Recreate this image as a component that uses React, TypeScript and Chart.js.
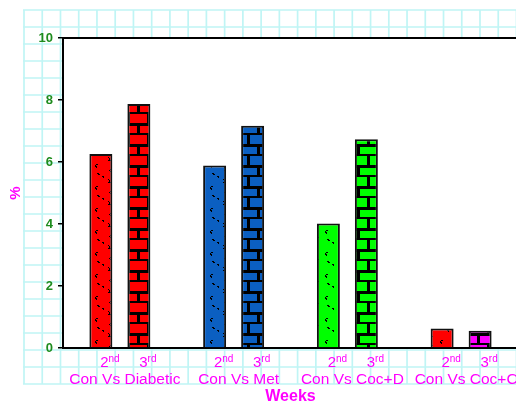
import React, { useEffect, useRef } from "react";
import { Chart, registerables } from "chart.js";

Chart.register(...registerables);

const categories = ["Con Vs Diabetic", "Con Vs Met", "Con Vs Coc+D", "Con Vs Coc+C"];
const weekNumbers = ["2", "3"];
const weekSuffixes = ["nd", "rd"];
const week2Values = [6.26, 5.89, 4.02, 0.63];
const week3Values = [7.87, 7.17, 6.73, 0.56];
const week2Colors = ["#ff0000", "#0b5fc1", "#00ff00", "#ff0000"];
const week3Colors = ["#ff0000", "#0b5fc1", "#00ff00", "#ff00ff"];
const yMin = 0;
const yMax = 10;
const yStep = 2;

const FONT = "Arial, 'Liberation Sans', sans-serif";
const MAGENTA = "#ff00ff";
const GREEN = "#1e8c1e";

function dotPattern(color: string): CanvasPattern {
  const c = document.createElement("canvas");
  c.width = 23;
  c.height = 22;
  const g = c.getContext("2d")!;
  g.fillStyle = color;
  g.fillRect(0, 0, 23, 22);
  g.fillStyle = "#000";
  const pts = [
    [16, 3], [17, 4], [17, 5], [16, 6], [17, 6], [18, 6],
    [3, 11], [4, 10], [5, 10], [3, 12], [4, 12], [4, 13],
    [18, 15], [17, 16], [18, 17], [19, 17],
    [10, 0], [11, 0], [11, 1],
    [5, 19], [6, 19], [6, 20], [7, 20],
  ];
  pts.forEach(([x, y]) => g.fillRect(x, y, 1, 1));
  return g.createPattern(c, "repeat")!;
}

function brickPattern(color: string): CanvasPattern {
  const c = document.createElement("canvas");
  c.width = 20;
  c.height = 21;
  const g = c.getContext("2d")!;
  g.fillStyle = "#000";
  g.fillRect(0, 0, 20, 21);
  g.fillStyle = color;
  g.fillRect(0, 0, 17, 7);
  g.fillRect(0, 9, 7, 9);
  g.fillRect(10, 9, 10, 9);
  return g.createPattern(c, "repeat")!;
}

const backgroundPlugin = {
  id: "paperGrid",
  beforeDraw(chart: any) {
    const { ctx, chartArea } = chart;
    ctx.save();
    ctx.fillStyle = "#ffffff";
    ctx.fillRect(0, 0, chart.width, chart.height);
    ctx.strokeStyle = "#c0f5f5";
    ctx.lineWidth = 1.7;
    const x0 = 24, y0 = 10, y1 = 384, dx = 18.24, dy = 17.0;
    ctx.beginPath();
    for (let x = x0; x <= chart.width; x += dx) {
      ctx.moveTo(x, y0);
      ctx.lineTo(x, y1);
    }
    for (let y = y0; y <= y1 + 0.5; y += dy) {
      ctx.moveTo(x0 - 1, y);
      ctx.lineTo(chart.width, y);
    }
    ctx.stroke();
    ctx.fillStyle = "#ffffff";
    ctx.fillRect(chartArea.left, chartArea.top, chartArea.right - chartArea.left, chartArea.bottom - chartArea.top);
    ctx.restore();
  },
  afterDraw(chart: any) {
    const { ctx, chartArea } = chart;
    ctx.save();
    ctx.strokeStyle = "#000";
    ctx.lineWidth = 2;
    ctx.beginPath();
    ctx.moveTo(chartArea.left, chartArea.top);
    ctx.lineTo(chart.width, chartArea.top);
    ctx.stroke();

    // week labels with superscripts under each bar
    ctx.fillStyle = MAGENTA;
    ctx.textBaseline = "alphabetic";
    ctx.textAlign = "left";
    const baseY = chartArea.bottom + 19;
    chart.data.datasets.forEach((ds: any, di: number) => {
      const meta = chart.getDatasetMeta(di);
      meta.data.forEach((bar: any) => {
        const big = `15px ${FONT}`;
        const small = `10px ${FONT}`;
        ctx.font = big;
        const w1 = ctx.measureText(weekNumbers[di]).width;
        ctx.font = small;
        const w2 = ctx.measureText(weekSuffixes[di]).width;
        const cx = bar.x + 9;
        const left = cx - (w1 + w2) / 2;
        ctx.font = big;
        ctx.fillText(weekNumbers[di], left, baseY);
        ctx.font = small;
        ctx.fillText(weekSuffixes[di], left + w1, baseY - 5.5);
      });
    });
    ctx.restore();
  },
};

export default function App() {
  const ref = useRef<HTMLCanvasElement | null>(null);

  useEffect(() => {
    if (!ref.current) return;
    const chart = new Chart(ref.current, {
      type: "bar",
      data: {
        labels: categories,
        datasets: [
          {
            label: "2nd",
            data: week2Values,
            backgroundColor: week2Colors.map(dotPattern) as any,
            borderColor: "#111",
            borderWidth: 2,
            borderSkipped: "bottom",
          },
          {
            label: "3rd",
            data: week3Values,
            backgroundColor: week3Colors.map(brickPattern) as any,
            borderColor: "#111",
            borderWidth: 2,
            borderSkipped: "bottom",
          },
        ],
      },
      options: {
        animation: false,
        responsive: false,
        devicePixelRatio: 1,
        layout: { padding: { top: 38, left: 0, right: 0, bottom: 0 } },
        plugins: {
          legend: { display: false },
          tooltip: { enabled: false },
        },
        datasets: {
          bar: { categoryPercentage: 0.668, barPercentage: 0.605 },
        },
        scales: {
          x: {
            type: "category",
            offset: true,
            grid: { display: true, drawOnChartArea: false, drawTicks: false },
            border: { display: true, color: "#000", width: 2 },
            ticks: {
              color: MAGENTA,
              font: { family: FONT, size: 15.5 },
              padding: 22,
              labelOffset: 5,
              maxRotation: 0,
              autoSkip: false,
            },
            title: {
              display: true,
              text: "Weeks",
              color: MAGENTA,
              font: { family: FONT, size: 16, weight: "bold" },
              padding: { top: 0, bottom: -2 },
            },
            afterFit: (s: any) => {
              s.height = 56;
              s.paddingLeft = 0;
              s.paddingRight = 0;
            },
          },
          y: {
            min: yMin,
            max: yMax,
            ticks: {
              stepSize: yStep,
              color: GREEN,
              font: { family: FONT, size: 13, weight: "bold" },
              padding: 5,
            },
            grid: { display: true, drawOnChartArea: false, drawTicks: true, tickLength: 5, color: "#000", lineWidth: 1.5 },
            border: { display: true, color: "#000", width: 2 },
            title: {
              display: true,
              text: "%",
              color: MAGENTA,
              font: { family: FONT, size: 15, weight: "bold" },
              padding: { top: 7, bottom: 0 },
            },
            afterFit: (s: any) => {
              s.width = 63;
              s.paddingTop = 0;
              s.paddingBottom = 0;
            },
          },
        },
      },
      plugins: [backgroundPlugin],
    } as any);
    return () => chart.destroy();
  }, []);

  return (
    <div
      style={{
        position: "fixed",
        left: 0,
        top: 0,
        width: 516,
        height: 404,
        overflow: "hidden",
        background: "#fff",
      }}
    >
      <canvas ref={ref} width={518} height={404} style={{ width: 518, height: 404, display: "block" }} />
    </div>
  );
}
